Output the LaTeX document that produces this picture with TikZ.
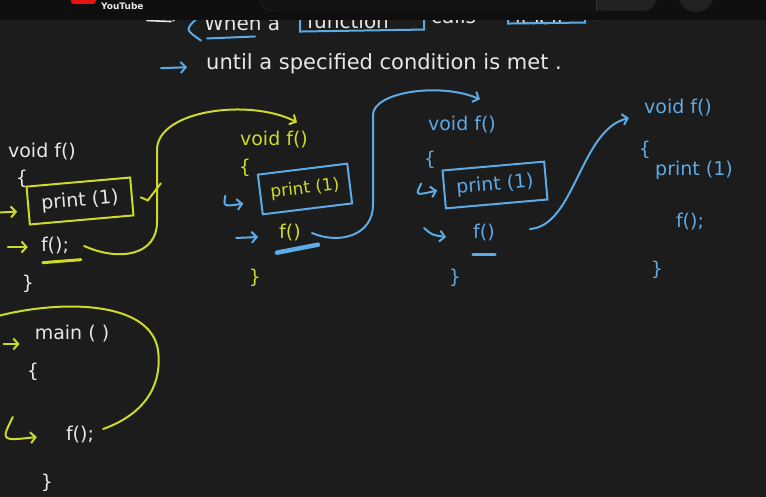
\documentclass[tikz,border=0pt]{standalone}
\usepackage{fontspec}
\setmainfont{DejaVu Sans}
\usetikzlibrary{arrows.meta,calc,positioning}
\definecolor{board}{RGB}{28,28,28}
\definecolor{topbar}{RGB}{15,15,15}
\definecolor{searchbg}{RGB}{18,18,18}
\definecolor{searchln}{RGB}{48,48,48}
\definecolor{btnbg}{RGB}{34,34,34}
\definecolor{chalk}{RGB}{232,232,232}
\definecolor{hlyellow}{RGB}{206,218,40}
\definecolor{penblue}{RGB}{92,170,230}
\definecolor{ytred}{RGB}{230,20,20}
\tikzset{
    code/.style={inner sep=1pt, font=\fontsize{19}{22}\selectfont},
    wcode/.style={code, text=chalk},
    ycode/.style={code, text=hlyellow},
    bcode/.style={code, text=penblue},
    ybox/.style={draw=hlyellow, line width=2pt},
    bbox/.style={draw=penblue, line width=2pt},
    ypen/.style={draw=hlyellow, line width=2pt, line cap=round},
    bpen/.style={draw=penblue, line width=2pt, line cap=round},
    wpen/.style={draw=chalk, line width=1.6pt, line cap=round},
    tip/.style={-{Straight Barb[length=5pt,width=11pt]}}
}
\begin{document}
\begin{tikzpicture}[x=1pt,y=-1pt]
    \fill[board] (0,0) rectangle (766,497);
    \useasboundingbox (0,0) rectangle (766,497);
    \clip (0,0) rectangle (766,497);
    % first line, cut by the top bar
    \node[wcode, anchor=base west, font=\fontsize{20}{24}\selectfont] (when) at (203,31) {When a};
    \node[wcode, anchor=base west, font=\fontsize{20}{24}\selectfont] (func) at (306,29) {function};
    \node[wcode, anchor=base west, font=\fontsize{20}{24}\selectfont] (calls) at (430,24) {calls};
    \node[wcode, anchor=base west, font=\fontsize{20}{24}\selectfont] (itself) at (514,25) {itself};
    \draw[wpen, tip] ($(when.west)+(-56,-8)$) -- ($(when.west)+(-24,-8)$);
    \draw[wpen] ($(when.west)+(-56,-3)$) -- ($(when.west)+(-32,-2)$);
    \draw[bpen] ($(when.west)+(-5,-6)$) .. controls ($(when.west)+(-18,6)$) .. ($(when.west)+(-2,17)$);
    \draw[bpen] ($(when.south west)+(4,6)$) -- ($(when.south west)+(52,4)$);
    \draw[bpen] ($(func.west)+(-6,-14)$) -- ($(func.west)+(-6,10)$) -- ($(func.east)+(34,8)$) -- ($(func.east)+(34,-16)$);
    \draw[bpen] ($(itself.west)+(-6,-14)$) -- ($(itself.west)+(-6,6)$) -- ($(itself.east)+(20,5)$) -- ($(itself.east)+(20,-14)$);
    \draw[bpen] ($(itself.east)+(32,2)$) -- ($(itself.east)+(46,-8)$);
    % top bar
    \fill[topbar] (0,0) rectangle (766,20);
    \fill[ytred, rounded corners=3pt] (71,-8) rectangle (96,4);
    \node[text=chalk, anchor=base west, font=\fontsize{9}{11}\selectfont\bfseries, inner sep=0pt] (yt) at (101,10) {YouTube};
    \draw[searchln, fill=searchbg, rounded corners=15pt] (259,-24) rectangle (657,11);
    \fill[btnbg, rounded corners=14pt] (596,-24) rectangle (656,10.5);
    \fill[btnbg] (596.5,-24) rectangle (615,10.5);
    \draw[searchln] (596,-24) -- (596,11);
    \fill[btnbg] (696,-6) circle (18);
    % second line
    \node[wcode, anchor=base west, font=\fontsize{21}{25}\selectfont] (until) at (205,70) {until a specified condition is met .};
    \draw[bpen, tip] ($(until.west)+(-44,4)$) -- ($(until.west)+(-18,3)$);
    % first call
    \node[wcode] (def1) at (42,152) {void f()};
    \node[wcode] (open1) at (22,179) {\{};
    \node[ybox, wcode, rotate=5, minimum width=104pt, minimum height=38pt] (pr1) at (80,201) {print (1)};
    \node[wcode] (call1) at (55,246) {f();};
    \node[wcode] (close1) at (28,284) {\}};
    \draw[ypen, tip] ($(pr1.west)+(-30,7)$) -- ($(pr1.west)+(-10,6)$);
    \draw[ypen, tip] ($(call1.west)+(-32,1)$) -- ($(call1.west)+(-12,1)$);
    \draw[ypen] ($(pr1.east)+(8,1)$) -- ++(7,3) -- ++(13,-17);
    \draw[ypen, line width=3pt] ($(call1.south west)+(3,7)$) -- ++(38,-3);
    % second call
    \node[ycode] (def2) at (274,140) {void f()};
    \node[ycode] (open2) at (245,168) {\{};
    \node[bbox, ycode, rotate=7, minimum width=90pt, minimum height=40pt, font=\fontsize{17}{20}\selectfont] (pr2) at (305,189) {print (1)};
    \node[ycode] (call2) at (290,233) {f()};
    \node[ycode] (close2) at (255,278) {\}};
    \draw[bpen, tip] ($(pr2.west)+(-34,1)$) .. controls ($(pr2.west)+(-36,12)$) .. ($(pr2.west)+(-16,9)$);
    \draw[bpen, tip] ($(call2.west)+(-42,5)$) -- ($(call2.west)+(-20,4)$);
    \draw[bpen, line width=4.5pt] ($(call2.south)+(-13,10)$) -- ($(call2.south)+(28,2)$);
    % third call
    \node[bcode] (def3) at (462,125) {void f()};
    \node[bcode] (open3) at (430,160) {\{};
    \node[bbox, bcode, rotate=5, minimum width=102pt, minimum height=38pt] (pr3) at (495,185) {print (1)};
    \node[bcode] (call3) at (484,233) {f()};
    \node[bcode] (close3) at (455,278) {\}};
    \draw[bpen, tip] ($(pr3.west)+(-22,-6)$) .. controls ($(pr3.west)+(-28,6)$) .. ($(pr3.west)+(-6,1)$);
    \draw[bpen, tip] ($(call3.west)+(-48,-5)$) .. controls ($(call3.west)+(-40,2)$) .. ($(call3.west)+(-26,4)$);
    \draw[bpen, line width=3.5pt] ($(call3.south)+(-11,12)$) -- ($(call3.south)+(11,12)$);
    % fourth call
    \node[bcode] (def4) at (678,108) {void f()};
    \node[bcode] (open4) at (645,150) {\{};
    \node[bcode] (pr4) at (694,170) {print (1)};
    \node[bcode] (call4) at (690,222) {f();};
    \node[bcode] (close4) at (657,270) {\}};
    % main
    \node[wcode] (main) at (72,334) {main ( )};
    \node[wcode] (open5) at (33,372) {\{};
    \node[wcode] (mcall) at (80,435) {f();};
    \node[wcode] (close5) at (47,483) {\}};
    \coordinate (offl) at (-2,316);
    \draw[ypen, tip] ($(main.west)+(-30,10)$) -- ($(main.west)+(-14,10)$);
    \draw[ypen, tip] ($(mcall.west)+(-52,-18)$) .. controls ($(mcall.west)+(-64,6)$) .. ($(mcall.west)+(-28,2)$);
    % the calls
    \draw[ypen, tip] ($(call1.east)+(14,0)$) .. controls (120,262) and (157,255) .. (157,222)
        -- (157,150) .. controls (157,110) and (250,98) .. ($(def2.north)+(23,-8)$);
    \draw[bpen, tip] ($(call2.east)+(10,0)$) .. controls (340,245) and (373,235) .. (373,205)
        -- (373,115) .. controls (373,92) and (440,82) .. ($(def3.north)+(18,-16)$);
    \draw[bpen, tip] ($(call3.east)+(34,-4)$) .. controls (575,226) and (580,130) .. ($(def4.west)+(-14,10)$);
    \draw[ypen] ($(mcall.east)+(8,-6)$) .. controls (150,412) and (162,380) .. (158,350)
        .. controls (150,300) and (60,300) .. (offl);
\end{tikzpicture}
\end{document}
